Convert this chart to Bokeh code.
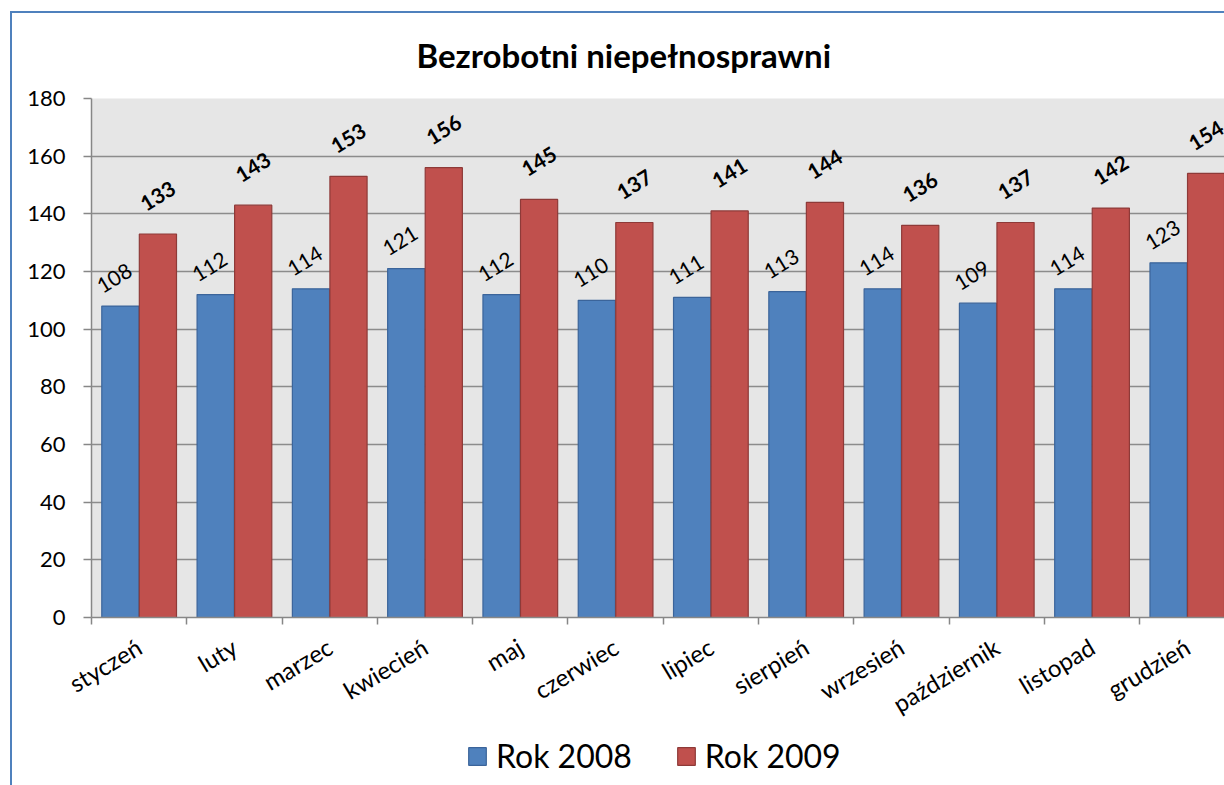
from bokeh.plotting import figure
from bokeh.layouts import column
from bokeh.models import (Range1d, FixedTicker, Legend, LegendItem, ColumnDataSource)
from bokeh.core.properties import value
from bokeh.embed import file_html
from bokeh.resources import INLINE

title_text = "Bezrobotni niepełnosprawni"
months = ["styczeń", "luty", "marzec", "kwiecień", "maj", "czerwiec", "lipiec",
          "sierpień", "wrzesień", "październik", "listopad", "grudzień"]
rok_2008 = [108, 112, 114, 121, 112, 110, 111, 113, 114, 109, 114, 123]
rok_2009 = [133, 143, 153, 156, 145, 137, 141, 144, 136, 137, 142, 154]
series_names = ["Rok 2008", "Rok 2009"]
y_ticks = [0, 20, 40, 60, 80, 100, 120, 140, 160, 180]

FONT = "Lato"
BLUE, BLUE_EDGE = "#4F81BD", "#3B649A"
RED, RED_EDGE = "#C0504D", "#8E3A38"
GRID = "#8C8C8C"
FRAME_BLUE = "#4F81BD"

idx = list(range(len(months)))
src08 = ColumnDataSource(dict(x=[i - 0.197 for i in idx], top=rok_2008,
                              lab=[str(v) for v in rok_2008]))
src09 = ColumnDataSource(dict(x=[i + 0.197 for i in idx], top=rok_2009,
                              lab=[str(v) for v in rok_2009]))

p = figure(width=1224, height=733, x_range=Range1d(-0.5, 11.39),
           y_range=Range1d(0, 180), output_backend="svg", toolbar_location=None,
           min_border_left=91, min_border_right=0, min_border_top=98,
           min_border_bottom=113)
p.background_fill_color = "#E6E6E6"
p.border_fill_color = "white"
p.border_fill_alpha = 0
p.outline_line_color = None
p.styles = {"background": f"linear-gradient({FRAME_BLUE},{FRAME_BLUE}) 10px 11px / 2px 100% no-repeat, "
                          f"linear-gradient({FRAME_BLUE},{FRAME_BLUE}) 10px 11px / 100% 2px no-repeat, white"}

# title
p.title.text = title_text
p.title.align = "left"
p.title.offset = 325
p.title.text_font = FONT
p.title.text_font_size = "33px"
p.title.text_font_style = "bold"
p.title.text_color = "black"
p.title.standoff = 48

# bars
r08 = p.vbar(x="x", top="top", width=0.39, source=src08, fill_color=BLUE,
             line_color=BLUE_EDGE, line_width=1.2)
r09 = p.vbar(x="x", top="top", width=0.39, source=src09, fill_color=RED,
             line_color=RED_EDGE, line_width=1.2)

# data labels
p.text(x="x", y="top", text="lab", source=src08, angle=0.55, text_align="center",
       text_baseline="middle", x_offset=-6, y_offset=-28,
       text_font=value(FONT), text_font_size="21px", text_color="black")
p.text(x="x", y="top", text="lab", source=src09, angle=0.55, text_align="center",
       text_baseline="middle", x_offset=0, y_offset=-38,
       text_font=value(FONT), text_font_size="21px", text_font_style="bold",
       text_color="black")

# y axis
p.yaxis.ticker = FixedTicker(ticks=y_ticks)
p.yaxis.minor_tick_line_color = None
p.yaxis.axis_line_color = "#878787"
p.yaxis.axis_line_width = 1.5
p.yaxis.major_tick_line_color = "#878787"
p.yaxis.major_tick_line_width = 1.5
p.yaxis.major_tick_out = 8
p.yaxis.major_tick_in = 0
p.yaxis.major_label_standoff = 18
p.yaxis.major_label_text_font = FONT
p.yaxis.major_label_text_font_size = "22px"
p.yaxis.major_label_text_color = "black"
p.ygrid.grid_line_color = GRID
p.ygrid.grid_line_width = 1.5

# x axis
p.xaxis.ticker = FixedTicker(ticks=idx, minor_ticks=[i - 0.5 for i in range(len(months) + 1)])
p.xaxis.major_label_overrides = {i: m for i, m in enumerate(months)}
p.xaxis.major_tick_line_color = None
p.xaxis.major_tick_out = 7
p.xaxis.minor_tick_out = 7
p.xaxis.minor_tick_in = 0
p.xaxis.minor_tick_line_color = "#878787"
p.xaxis.minor_tick_line_width = 1.5
p.xaxis.axis_line_color = "#878787"
p.xaxis.axis_line_width = 1.5
p.xaxis.major_label_orientation = 0.54
p.xaxis.major_label_standoff = 20
p.xaxis.major_label_text_font = FONT
p.xaxis.major_label_text_font_size = "24px"
p.xaxis.major_label_text_color = "black"
p.xgrid.grid_line_color = None

# legend strip below the chart
lg = figure(width=1224, height=52, x_range=Range1d(0, 1), y_range=Range1d(0, 1),
            output_backend="svg", toolbar_location=None,
            x_axis_location=None, y_axis_location=None,
            min_border_left=0, min_border_right=0, min_border_top=0, min_border_bottom=0)
lg.grid.grid_line_color = None
lg.outline_line_color = None
lg.background_fill_alpha = 0
lg.border_fill_alpha = 0
lg.styles = {"background": f"linear-gradient({FRAME_BLUE},{FRAME_BLUE}) 10px 0px / 2px 100% no-repeat, white"}
# key renderers share the series data but stay hidden; only their legend swatches show
k08 = lg.vbar(x="x", top="top", width=0.39, source=src08, fill_color=BLUE,
              line_color=BLUE_EDGE, line_width=1.2, visible=False)
k09 = lg.vbar(x="x", top="top", width=0.39, source=src09, fill_color=RED,
              line_color=RED_EDGE, line_width=1.2, visible=False)
legend = Legend(items=[LegendItem(label=series_names[0], renderers=[k08]),
                       LegendItem(label=series_names[1], renderers=[k09])],
                orientation="horizontal", location=(375, 10),
                label_text_font=FONT, label_text_font_size="32px",
                label_text_color="black", glyph_width=22, glyph_height=22,
                label_standoff=8, spacing=43, padding=0, margin=0,
                inactive_fill_alpha=0, click_policy="none",
                border_line_color=None, background_fill_alpha=0)
lg.add_layout(legend, "center")

root = column(p, lg, spacing=0)
open("out.html", "w").write(file_html(root, INLINE))
